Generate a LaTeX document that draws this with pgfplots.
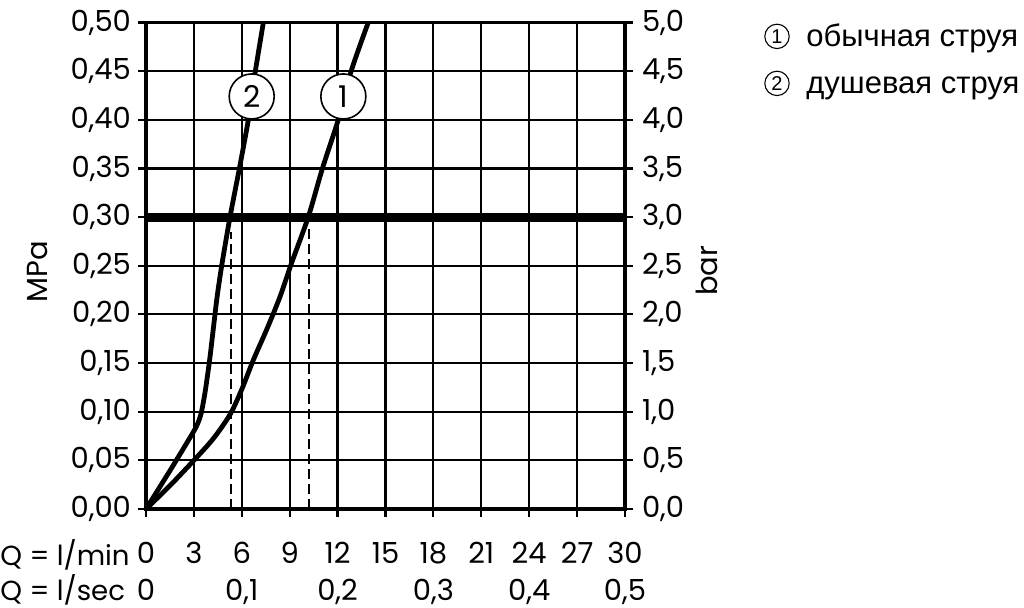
\documentclass[border=0pt]{standalone}
\usepackage{pgfplots}
\pgfplotsset{compat=1.18}
\usepackage{fontspec}
\setmainfont{Poppins}
\newfontfamily\legfont{Liberation Sans}
\tikzset{lab/.style={anchor=base, inner sep=0pt, font=\fontsize{14.5pt}{17pt}\selectfont},
  legcirc/.style={circle, draw=black, line width=0.55pt, minimum size=12.2pt, inner sep=0pt, font=\legfont\fontsize{10pt}{12pt}\selectfont}}
\begin{document}
\begin{tikzpicture}
\path[use as bounding box] (0,0) rectangle (512pt,304pt);
\begin{axis}[
  at={(73pt,49.5pt)}, anchor=south west, scale only axis,
  width=239.5pt, height=243.25pt,
  xmin=0, xmax=30, ymin=0, ymax=0.5,
  xtick={0,3,6,9,12,15,18,21,24,27,30},
  xticklabels={0,3,6,9,12,15,18,21,24,27,30},
  ytick={0,0.05,0.1,0.15,0.2,0.25,0.3,0.35,0.4,0.45,0.5},
  yticklabels={{0,00},{0,05},{0,10},{0,15},{0,20},{0,25},{0,30},{0,35},{0,40},{0,45},{0,50}},
  xtick pos=left, ytick pos=left,
  tick align=outside, major tick length=4pt,
  tick style={black, line width=1.1pt},
  grid=major, major grid style={black, line width=1.1pt},
  axis line style={black, line width=1.7pt},
  tick label style={font=\fontsize{14.5pt}{17pt}\selectfont},
  xticklabel style={anchor=base, yshift=-23.3pt},
  ylabel={MPa},
  ylabel style={at={(rel axis cs:0,0.487)}, anchor=center, yshift=54pt, font=\fontsize{14.5pt}{17pt}\selectfont},
  clip=false,
]
\addplot[black, line width=4.5pt] coordinates {(0,0.3) (30,0.3)};
\addplot[black, line width=1pt, dash pattern=on 5pt off 2.5pt] coordinates {(5.35,0) (5.35,0.285)};
\addplot[black, line width=1pt, dash pattern=on 5pt off 2.5pt] coordinates {(10.2,0) (10.2,0.29)};
% curve 1: normal spray
\addplot[black, line width=2.4pt, smooth, tension=0.5] coordinates {
(0,0) (1.5,0.024) (3,0.05) (4.2,0.072) (5.26,0.097) (6,0.123) (6.72,0.153) (7.6,0.186) (8.39,0.218) (9.1,0.252) (10.16,0.30) (11.05,0.35) (12.04,0.40) (12.85,0.45) (13.92,0.50)};
% curve 2: shower spray
\addplot[black, line width=2.4pt, smooth, tension=0.35] coordinates {
(0,0) (1.6,0.042) (3.1,0.083) (3.45,0.098) (3.7,0.12) (4.0,0.155) (4.43,0.215) (4.74,0.25) (5.26,0.30) (5.85,0.35) (6.41,0.40) (6.85,0.45) (7.35,0.50)};
\node[circle, draw=black, line width=0.8pt, fill=white, minimum size=22.5pt, inner sep=0pt, font=\fontsize{15pt}{17pt}\selectfont] at (axis cs:6.62,0.424) {2};
\node[circle, draw=black, line width=0.8pt, fill=white, minimum size=22.5pt, inner sep=0pt, font=\fontsize{15pt}{17pt}\selectfont] at (axis cs:12.36,0.424) {1};
% second row of x labels
\node[lab] at (axis cs:0,0) [yshift=-45.7pt] {0};
\node[lab] at (axis cs:6,0) [yshift=-45.7pt] {0,1};
\node[lab] at (axis cs:12,0) [yshift=-45.7pt] {0,2};
\node[lab] at (axis cs:18,0) [yshift=-45.7pt] {0,3};
\node[lab] at (axis cs:24,0) [yshift=-45.7pt] {0,4};
\node[lab] at (axis cs:30,0) [yshift=-45.7pt] {0,5};
\node[lab, anchor=base west, font=\fontsize{13.8pt}{17pt}\selectfont] at (rel axis cs:0,0) [xshift=-73pt, yshift=-28.5pt] {Q = l/min};
\node[lab, anchor=base west, font=\fontsize{13.8pt}{17pt}\selectfont] at (rel axis cs:0,0) [xshift=-73pt, yshift=-45.7pt] {Q = l/sec};
\end{axis}
\begin{axis}[
  at={(73pt,49.5pt)}, anchor=south west, scale only axis,
  width=239.5pt, height=243.25pt,
  xmin=0, xmax=30, ymin=0, ymax=5,
  axis x line=none, axis y line*=right,
  ytick={0,0.5,1,1.5,2,2.5,3,3.5,4,4.5,5},
  yticklabels={{0,0},{0,5},{1,0},{1,5},{2,0},{2,5},{3,0},{3,5},{4,0},{4,5},{5,0}},
  tick align=outside, major tick length=4pt,
  tick style={black, line width=1.1pt},
  axis line style={black, line width=1.7pt},
  tick label style={font=\fontsize{14.5pt}{17pt}\selectfont},
  yticklabel style={inner xsep=4.3pt},
  ylabel={bar},
  ylabel style={at={(rel axis cs:1,0.49)}, anchor=center, yshift=-41pt, font=\fontsize{14.5pt}{17pt}\selectfont},
]
\end{axis}
\node[legcirc] at (388.5pt,285.8pt) {1};
\node[anchor=base west, inner sep=0pt, font=\legfont\fontsize{15.5pt}{18pt}\selectfont] at (403pt,280.5pt) {обычная струя};
\node[legcirc] at (388.5pt,262.3pt) {2};
\node[anchor=base west, inner sep=0pt, font=\legfont\fontsize{15.5pt}{18pt}\selectfont] at (403pt,257pt) {душевая струя};
\end{tikzpicture}
\end{document}
